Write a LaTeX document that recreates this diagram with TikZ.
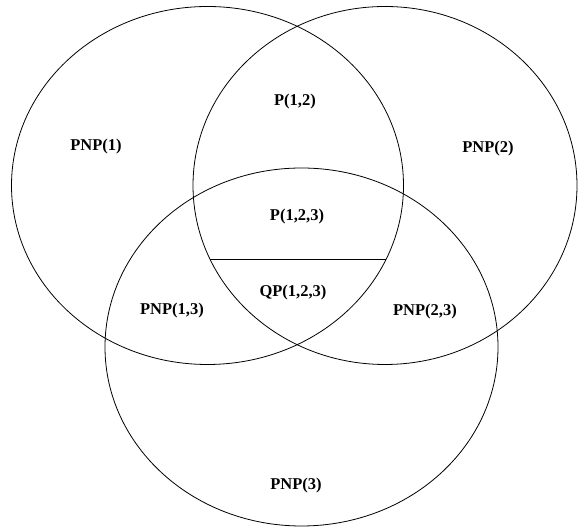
\documentclass[tikz,border=0pt]{standalone}
\usepackage{fontspec}
\setmainfont{Liberation Serif}
\usepackage{tikz}

\tikzset{
  setring/.style={draw, line width=0.8pt},
  setlbl/.style={font=\bfseries\fontsize{16.5}{18}\selectfont, inner sep=1pt}
}

\begin{document}
\begin{tikzpicture}[x=1pt, y=1pt]
  \useasboundingbox (0,0) rectangle (578,529);
  % centres of the three sets
  \coordinate (c1) at (207.5,343.5);
  \coordinate (c2) at (385,343.5);
  \coordinate (c3) at (301.5,182);
  \draw[setring] (c1) ellipse [x radius=196pt, y radius=179pt];
  \draw[setring] (c2) ellipse [x radius=192pt, y radius=179pt];
  \draw[setring] (c3) ellipse [x radius=196.5pt, y radius=179pt];
  % chord splitting the centre
  \coordinate (chordL) at ([shift={(204.24:192pt and 179pt)}]c2);
  \coordinate (chordR) at ([shift={(-24.24:196pt and 179pt)}]c1);
  \draw[setring] (chordL) -- (chordR);
  \node[setlbl] (pnp1)  at (96,382)  {PNP(1)};
  \node[setlbl] (p12)   at (295,427) {P(1,2)};
  \node[setlbl] (pnp2)  at (488,380) {PNP(2)};
  \node[setlbl] (p123)  at (297,312) {P(1,2,3)};
  \node[setlbl] (qp123) at (293,236) {QP(1,2,3)};
  \node[setlbl] (pnp13) at (172,218) {PNP(1,3)};
  \node[setlbl] (pnp23) at (425,217) {PNP(2,3)};
  \node[setlbl] (pnp3)  at (296,43)  {PNP(3)};
\end{tikzpicture}
\end{document}
